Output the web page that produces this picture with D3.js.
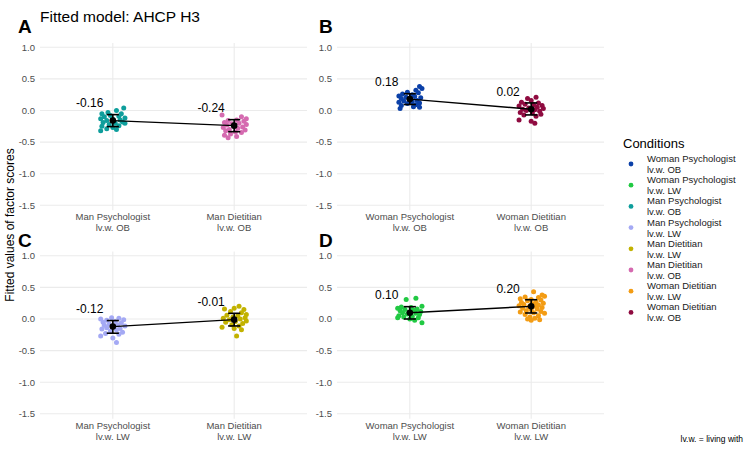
<!DOCTYPE html>
<html>
<head>
  <meta charset="utf-8">
  <title>Fitted model: AHCP H3</title>
  <script src="https://d3js.org/d3.v7.min.js"></script>
  <style>
    body { margin: 0; background: #fff; }
    svg { font-family: "Liberation Sans", Arial, sans-serif; }
  </style>
</head>
<body>
<div id="chart"></div>
<script>
// conditions in legend order
const conditions = [
  "Woman Psychologist lv.w. OB", "Woman Psychologist lv.w. LW",
  "Man Psychologist lv.w. OB", "Man Psychologist lv.w. LW",
  "Man Dietitian lv.w. LW", "Man Dietitian lv.w. OB",
  "Woman Dietitian lv.w. LW", "Woman Dietitian lv.w. OB"
];
const conditionColors = ["#0b40a8", "#21c943", "#0e9e9c", "#a4a9f4",
                         "#c2b200", "#d56ab0", "#f39c14", "#8f0b40"];

const panelLetters = ["A", "B", "C", "D"];
// index into conditions, two per panel
const panelConditions = [[2, 5], [0, 7], [3, 4], [1, 6]];

const fittedMean = [0.18, 0.10, -0.16, -0.12, -0.01, -0.24, 0.20, 0.02];
const ciLow  = [0.095, 0.0, -0.255, -0.225, -0.11, -0.335, 0.095, -0.07];
const ciHigh = [0.265, 0.195, -0.065, -0.025, 0.09, -0.145, 0.305, 0.12];

const yTicks = [1.0, 0.5, 0.0, -0.5, -1.0, -1.5];

// observed fitted scores: [jitter (category units), value]
const scoresWomanPsyOB = [[0.08,0.38],[0.1,0.35],[0.05,0.32],[-0.02,0.29],[0.07,0.28],[-0.06,0.26],[0.02,0.25],[-0.09,0.23],[0.04,0.22],[-0.03,0.21],[0.09,0.2],[-0.07,0.19],[0.0,0.18],[0.06,0.16],[-0.05,0.15],[0.02,0.14],[-0.09,0.13],[0.08,0.12],[-0.02,0.11],[0.05,0.09],[-0.07,0.08],[0.03,0.06],[0.08,0.05],[-0.08,0.03]];
const scoresWomanPsyLW = [[0.05,0.33],[-0.03,0.31],[0.1,0.2],[-0.07,0.19],[0.01,0.18],[-0.1,0.17],[0.06,0.16],[-0.04,0.15],[0.03,0.14],[-0.08,0.13],[0.09,0.12],[0.0,0.11],[-0.06,0.1],[0.05,0.09],[-0.02,0.08],[0.08,0.07],[-0.09,0.05],[0.02,0.04],[-0.05,0.03],[0.07,0.02],[-0.1,0.02],[0.0,0.0],[0.04,-0.02],[0.1,-0.06]];
const scoresManPsyOB = [[0.09,0.04],[0.03,0.0],[-0.04,-0.03],[-0.09,-0.05],[0.07,-0.05],[-0.02,-0.08],[0.05,-0.09],[-0.07,-0.1],[0.1,-0.12],[-0.1,-0.13],[0.0,-0.14],[0.06,-0.15],[-0.05,-0.16],[0.08,-0.18],[-0.08,-0.19],[0.02,-0.2],[0.1,-0.2],[-0.03,-0.22],[0.05,-0.24],[-0.09,-0.25],[0.0,-0.27],[-0.05,-0.29],[0.03,-0.3],[-0.1,-0.32]];
const scoresManPsyLW = [[-0.01,0.02],[0.05,0.01],[-0.1,0.0],[0.09,-0.01],[-0.05,-0.02],[0.02,-0.04],[-0.08,-0.05],[0.07,-0.06],[-0.03,-0.08],[0.04,-0.09],[-0.07,-0.1],[0.1,-0.11],[0.0,-0.12],[-0.05,-0.14],[0.06,-0.15],[-0.09,-0.16],[0.03,-0.17],[-0.02,-0.19],[0.08,-0.21],[-0.06,-0.23],[0.05,-0.24],[-0.1,-0.27],[0.0,-0.3],[0.03,-0.37]];
const scoresManDietLW = [[0.04,0.2],[-0.08,0.16],[0.0,0.17],[0.08,0.15],[-0.03,0.12],[0.06,0.1],[0.1,0.07],[-0.06,0.06],[0.03,0.05],[-0.01,0.03],[0.09,0.02],[-0.09,0.01],[0.05,0.0],[-0.04,-0.01],[0.1,-0.03],[0.01,-0.04],[-0.07,-0.05],[0.07,-0.07],[-0.02,-0.09],[0.04,-0.11],[-0.1,-0.13],[0.0,-0.15],[0.06,-0.17],[0.02,-0.27]];
const scoresManDietOB = [[-0.1,-0.07],[0.06,-0.1],[0.1,-0.13],[0.02,-0.15],[-0.05,-0.16],[0.08,-0.17],[-0.08,-0.19],[0.04,-0.2],[-0.02,-0.21],[0.1,-0.22],[-0.06,-0.23],[0.0,-0.25],[0.07,-0.26],[-0.09,-0.27],[0.03,-0.28],[-0.04,-0.3],[0.09,-0.31],[-0.07,-0.32],[0.01,-0.34],[0.06,-0.35],[-0.03,-0.37],[-0.08,-0.39],[0.02,-0.41],[-0.05,-0.43]];
const scoresWomanDietLW = [[0.02,0.43],[0.09,0.38],[0.11,0.36],[-0.05,0.35],[0.06,0.34],[-0.09,0.32],[0.0,0.31],[0.08,0.3],[-0.03,0.29],[0.04,0.27],[-0.08,0.26],[0.1,0.25],[0.01,0.24],[-0.06,0.23],[0.06,0.22],[-0.1,0.21],[0.03,0.2],[-0.02,0.19],[0.09,0.18],[-0.07,0.17],[0.05,0.16],[0.0,0.15],[-0.04,0.13],[0.08,0.12],[-0.09,0.11],[0.02,0.1],[0.11,0.09],[-0.05,0.07],[0.06,0.05],[-0.01,0.03],[0.03,0.01],[-0.03,0.0],[0.07,-0.01],[0.0,-0.02]];
const scoresWomanDietOB = [[0.04,0.21],[-0.03,0.19],[0.0,0.16],[-0.08,0.13],[0.06,0.12],[-0.05,0.1],[0.02,0.09],[0.09,0.08],[-0.1,0.07],[0.05,0.05],[-0.02,0.04],[0.1,0.03],[-0.07,0.02],[0.03,0.01],[-0.04,0.0],[0.07,-0.01],[-0.09,-0.03],[0.01,-0.04],[0.08,-0.06],[-0.06,-0.07],[0.04,-0.09],[-0.1,-0.15],[0.0,-0.17],[0.03,-0.2]];

const scoresByCondition = [scoresWomanPsyOB, scoresWomanPsyLW, scoresManPsyOB, scoresManPsyLW,
                           scoresManDietLW, scoresManDietOB, scoresWomanDietLW, scoresWomanDietOB];

const W = 747, H = 449;
const svg = d3.select("#chart").append("svg").attr("width", W).attr("height", H);

const panelW = 267;
const colX = [40, 337];
const rowTop = [47.3, 255.8];   // pixel of y = 1.0
const rowBottom = [205.3, 413.8]; // pixel of y = -1.5

panelLetters.forEach(function(letter, i) {
  var col = i % 2, row = Math.floor(i / 2);
  var conds = panelConditions[i];
  var g = svg.append("g");

  var x = d3.scalePoint().domain(conds).range([colX[col], colX[col] + panelW]).padding(0.6);
  var y = d3.scaleLinear().domain([-1.5, 1]).range([rowBottom[row], rowTop[row]]);
  var step = x.step();

  // grid
  g.selectAll(".hgrid").data(yTicks).enter().append("line")
    .attr("x1", colX[col]).attr("x2", colX[col] + panelW)
    .attr("y1", function(d) { return y(d); }).attr("y2", function(d) { return y(d); })
    .attr("stroke", "#ebebeb").attr("stroke-width", 1.1);
  g.selectAll(".vgrid").data(conds).enter().append("line")
    .attr("x1", function(d) { return x(d); }).attr("x2", function(d) { return x(d); })
    .attr("y1", y(1.07)).attr("y2", y(-1.58))
    .attr("stroke", "#ebebeb").attr("stroke-width", 1.1);

  // y axis labels
  g.selectAll(".ytick").data(yTicks).enter().append("text")
    .attr("x", colX[col] - 5).attr("y", function(d) { return y(d); })
    .attr("dy", "0.35em").attr("text-anchor", "end")
    .attr("font-size", 9.5).attr("fill", "#4d4d4d")
    .text(function(d) { return d3.format(".1f")(d).replace("−", "-"); });

  // x axis labels (two lines)
  conds.forEach(function(c) {
    var parts = conditions[c].split(" lv.w.");
    var t = g.append("text").attr("text-anchor", "middle")
      .attr("font-size", 9.5).attr("fill", "#4d4d4d");
    t.append("tspan").attr("x", x(c)).attr("y", y(-1.5) + 15).text(parts[0]);
    t.append("tspan").attr("x", x(c)).attr("y", y(-1.5) + 26).text("lv.w." + parts[1]);
  });

  // jittered points
  conds.forEach(function(c) {
    g.selectAll(".pt" + c).data(scoresByCondition[c]).enter().append("circle")
      .attr("cx", function(d) { return x(c) + d[0] * step; })
      .attr("cy", function(d) { return y(d[1]); })
      .attr("r", 2.5)
      .attr("fill", conditionColors[c]);
  });

  // line between means
  var line = d3.line().x(function(c) { return x(c); }).y(function(c) { return y(fittedMean[c]); });
  g.append("path").datum(conds).attr("d", line)
    .attr("fill", "none").attr("stroke", "#000").attr("stroke-width", 1.4);

  // error bars
  conds.forEach(function(c) {
    var cx = x(c), hw = 0.05 * step;
    g.append("line").attr("x1", cx).attr("x2", cx).attr("y1", y(ciLow[c])).attr("y2", y(ciHigh[c]))
      .attr("stroke", "#000").attr("stroke-width", 1.6);
    [ciLow[c], ciHigh[c]].forEach(function(v) {
      g.append("line").attr("x1", cx - hw).attr("x2", cx + hw).attr("y1", y(v)).attr("y2", y(v))
        .attr("stroke", "#000").attr("stroke-width", 1.6);
    });
    g.append("circle").attr("cx", cx).attr("cy", y(fittedMean[c])).attr("r", 3.3).attr("fill", "#000");
    g.append("text").attr("x", cx - 0.19 * step).attr("y", y(fittedMean[c] + 0.28))
      .attr("dy", "0.35em").attr("text-anchor", "middle")
      .attr("font-size", 12).attr("fill", "#000")
      .text(d3.format(".2f")(fittedMean[c]).replace("−", "-"));
  });

  // panel letter
  svg.append("text").attr("x", col === 0 ? 18 : 319).attr("y", row === 0 ? 32.5 : 247)
    .attr("font-size", 19).attr("font-weight", "bold").text(letter);
});

// title
svg.append("text").attr("x", 40).attr("y", 21.5).attr("font-size", 15.5).text("Fitted model: AHCP H3");

// y axis title
svg.append("text").attr("transform", "translate(14,225) rotate(-90)")
  .attr("text-anchor", "middle").attr("font-size", 12).text("Fitted values of factor scores");

// legend
var legend = svg.append("g").attr("transform", "translate(623,0)");
legend.append("text").attr("x", 0).attr("y", 148).attr("font-size", 13).text("Conditions");
conditions.forEach(function(c, i) {
  var cy = 164 + i * 21.2;
  var parts = c.split(" lv.w.");
  legend.append("circle").attr("cx", 8).attr("cy", cy).attr("r", 2.4).attr("fill", conditionColors[i]);
  var t = legend.append("text").attr("font-size", 9.5).attr("fill", "#1a1a1a");
  t.append("tspan").attr("x", 24).attr("y", cy - 2).text(parts[0]);
  t.append("tspan").attr("x", 24).attr("y", cy + 9).text("lv.w." + parts[1]);
});

// note
svg.append("text").attr("x", 743).attr("y", 442).attr("text-anchor", "end")
  .attr("font-size", 8.5).attr("fill", "#000").text("lv.w. = living with");
</script>
</body>
</html>
